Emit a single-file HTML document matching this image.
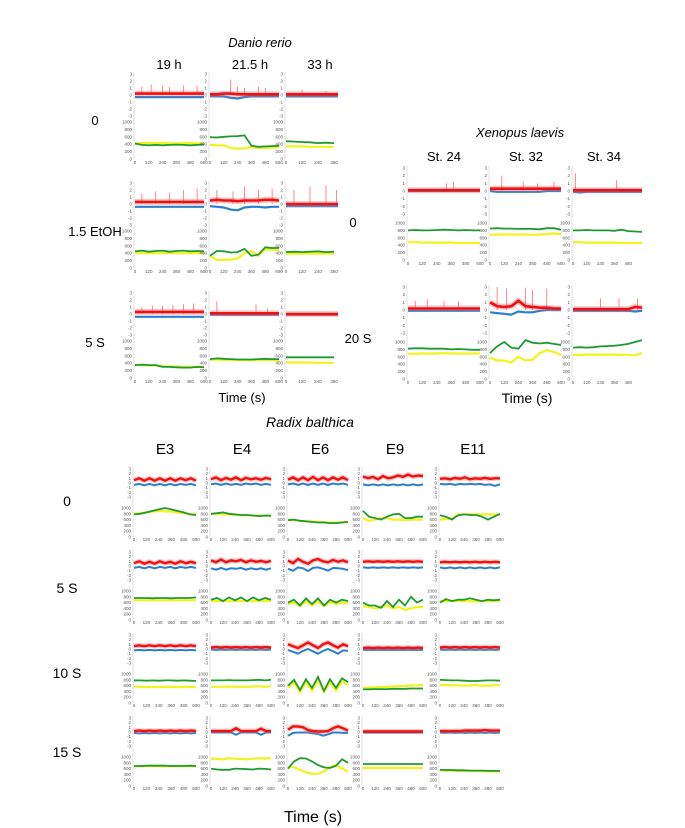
<!DOCTYPE html>
<html><head><meta charset="utf-8"><style>
html,body{margin:0;padding:0;background:#fff;}
svg{display:block;font-family:"Liberation Sans",sans-serif;}
.tk{font-size:4.5px;fill:#555;}
</style></head><body>
<svg id="fig" width="685" height="828" viewBox="0 0 685 828">
<g>
<text x="260" y="47" font-size="13" font-style="italic" text-anchor="middle">Danio rerio</text>
<text x="169" y="69" font-size="13" text-anchor="middle">19 h</text>
<text x="250" y="69" font-size="13" text-anchor="middle">21.5 h</text>
<text x="320" y="69" font-size="13" text-anchor="middle">33 h</text>
<text x="95" y="125" font-size="13" text-anchor="middle">0</text>
<text x="95" y="236" font-size="13" text-anchor="middle">1.5 EtOH</text>
<text x="95" y="347" font-size="13" text-anchor="middle">5 S</text>
<text x="242" y="402" font-size="13" text-anchor="middle">Time (s)</text>
<text x="520" y="137" font-size="13" font-style="italic" text-anchor="middle">Xenopus laevis</text>
<text x="444" y="161" font-size="13" text-anchor="middle">St. 24</text>
<text x="526" y="161" font-size="13" text-anchor="middle">St. 32</text>
<text x="604" y="161" font-size="13" text-anchor="middle">St. 34</text>
<text x="353" y="227" font-size="13" text-anchor="middle">0</text>
<text x="358" y="343" font-size="13" text-anchor="middle">20 S</text>
<text x="527" y="403" font-size="14" text-anchor="middle">Time (s)</text>
<text x="310" y="427" font-size="14" font-style="italic" text-anchor="middle">Radix balthica</text>
<text x="165" y="454" font-size="15" text-anchor="middle">E3</text>
<text x="242" y="454" font-size="15" text-anchor="middle">E4</text>
<text x="320" y="454" font-size="15" text-anchor="middle">E6</text>
<text x="395" y="454" font-size="15" text-anchor="middle">E9</text>
<text x="473" y="454" font-size="15" text-anchor="middle">E11</text>
<text x="67" y="506" font-size="14" text-anchor="middle">0</text>
<text x="67" y="593" font-size="14" text-anchor="middle">5 S</text>
<text x="67" y="678" font-size="14" text-anchor="middle">10 S</text>
<text x="67" y="757" font-size="14" text-anchor="middle">15 S</text>
<text x="313" y="822" font-size="16" text-anchor="middle">Time (s)</text>
</g>
</svg>
<script>
// ---- Danio rerio (row-major: rows 0,1.5EtOH,5S ; cols 19h,21.5h,33h)
const danioGreen = [
 [420,380,370,380,370,380,390,380,370,380,390],
 [590,580,600,610,620,640,360,330,340,350,360],
 [480,470,460,450,430,440,430],
 [450,470,440,460,470,440,460,470,450,460,450],
 [330,460,450,420,430,520,330,360,560,540,540],
 [430,440,430,440,450,430,440],
 [350,360,350,350,300,300,290,280,280,300,290],
 [510,530,520,510,500,500,500,510,520,510,510],
 [560,560,560,560,560,560,560]
];
const danioYellow = [
 [420,430,440,430,440,430,420,430,440,420,430],
 [380,370,370,300,280,290,320,300,300,310,320],
 [340,340,340,330,330,330,330],
 [400,400,400,400,400,410,400,400,400,400,400],
 [320,220,220,230,260,400,460,330,500,500,480],
 [390,390,390,390,390,390,390],
 [360,350,340,340,320,310,310,300,300,300,300],
 [490,500,490,490,480,480,480,480,490,480,470],
 [420,420,420,420,410,410,410]
];
const danioRed = [
 [0.2,0.2,0.2,0.2,0.2,0.2,0.2,0.2,0.2,0.2,0.2],
 [0.1,0.1,0.2,0.2,0.1,0.1,0.1,0.1,0.1,0.1,0.1],
 [0.1,0.1,0.1,0.1,0.1,0.1,0.1,0.1,0.1],
 [0.3,0.3,0.3,0.3,0.3,0.3,0.3,0.3,0.3,0.3,0.3],
 [0.5,0.6,0.5,0.5,0.4,0.5,0.5,0.5,0.6,0.6,0.5],
 [0.0,0.0,0.0,0.0,0.0,0.0,0.0,0.0,0.0],
 [0.3,0.3,0.3,0.3,0.3,0.3,0.3,0.3,0.3,0.3,0.3],
 [0.1,0.1,0.1,0.1,0.1,0.1,0.1,0.1,0.1,0.1,0.1],
 [0.0,0.0,0.0,0.0,0.0,0.0,0.0,0.0,0.0]
];
const danioBlue = [
 [-0.3,-0.3,-0.3,-0.3,-0.3,-0.3,-0.3,-0.3,-0.3,-0.3,-0.3],
 [-0.2,-0.2,-0.2,-0.4,-0.5,-0.3,-0.2,-0.2,-0.2,-0.2,-0.2],
 [-0.2,-0.2,-0.2,-0.2,-0.2,-0.2,-0.2,-0.2,-0.2],
 [-0.4,-0.4,-0.4,-0.4,-0.4,-0.4,-0.4,-0.4,-0.4,-0.4,-0.4],
 [-0.3,-0.4,-0.5,-0.8,-0.9,-0.5,-0.4,-0.4,-0.5,-0.4,-0.4],
 [-0.3,-0.3,-0.3,-0.3,-0.3,-0.3,-0.3,-0.3,-0.3],
 [-0.4,-0.4,-0.4,-0.4,-0.4,-0.4,-0.4,-0.4,-0.4,-0.4,-0.4],
 [-0.1,-0.1,-0.1,-0.1,-0.1,-0.1,-0.1,-0.1,-0.1,-0.1,-0.1],
 [-0.1,-0.1,-0.1,-0.1,-0.1,-0.1,-0.1,-0.1,-0.1]
];
const danioSpikes = [
 [[60,1.2],[140,1.5],[240,1.3],[300,1.1],[420,1.4],[540,1.3]],
 [[180,2.2],[240,1.2],[300,1.0],[420,1.2],[480,1.0]],
 [[120,0.8],[300,0.6]],
 [[60,1.5],[180,1.8],[300,1.6],[420,2.0],[540,2.2]],
 [[60,2.0],[200,1.8],[300,2.5],[420,2.0],[540,2.2]],
 [[60,2.0],[180,2.5],[300,2.6],[380,2.0]],
 [[60,1.0],[150,1.2],[240,1.2],[330,1.3],[420,1.4],[510,1.5]],
 [[60,1.8],[400,1.4],[500,0.8]],
 []
];
const danioDur = [[600,600,390],[600,600,390],[600,600,390]];
// ---- Xenopus laevis (rows 0, 20S ; cols St24, St32, St34)
const xenGreen = [
 [800,810,800,800,810,820,810,800,810,800,800],
 [850,860,850,850,840,840,840,830,860,860,820],
 [800,800,810,800,800,800,790,820,780,770,760],
 [820,830,830,820,820,820,800,810,800,790,790],
 [700,880,1000,850,820,1050,980,960,980,950,920],
 [850,860,850,860,880,890,900,920,950,1000,1050]
];
const xenYellow = [
 [480,480,470,470,470,470,470,460,460,460,460],
 [680,690,690,690,690,690,680,690,700,720,700],
 [480,480,470,470,470,470,470,460,460,460,460],
 [680,680,690,690,690,700,690,690,690,690,690],
 [580,500,500,450,600,500,520,700,780,730,650],
 [650,650,660,660,660,660,660,650,650,640,700]
];
const xenRed = [
 [0.1,0.1,0.1,0.1,0.1,0.1,0.1,0.1,0.1,0.1,0.1],
 [0.3,0.3,0.3,0.3,0.3,0.3,0.3,0.3,0.3,0.3,0.3],
 [0.1,0.1,0.1,0.1,0.1,0.1,0.1,0.1,0.1,0.1,0.1],
 [0.2,0.2,0.2,0.2,0.2,0.2,0.2,0.2,0.2,0.2,0.2],
 [1.0,0.5,0.4,0.5,1.2,0.5,0.4,0.3,0.3,0.2,0.2],
 [0.1,0.1,0.1,0.1,0.1,0.1,0.1,0.1,0.1,0.4,0.3]
];
const xenBlue = [
 [0.0,0.0,0.0,0.0,0.0,0.0,0.0,0.0,0.0,0.0,0.0],
 [0.0,-0.1,-0.1,-0.1,-0.1,-0.1,-0.1,-0.1,0.0,0.0,0.0],
 [-0.1,-0.2,-0.1,-0.1,-0.1,-0.1,-0.1,-0.1,-0.1,-0.1,-0.1],
 [-0.1,-0.1,-0.1,-0.1,-0.1,-0.1,-0.1,-0.1,-0.1,-0.1,-0.1],
 [-0.3,-0.4,-0.5,-0.6,-0.2,-0.3,-0.3,-0.1,0.0,0.0,0.0],
 [-0.1,-0.1,-0.1,-0.1,-0.1,-0.1,-0.1,-0.1,-0.1,-0.2,-0.1]
];
const xenSpikes = [
 [[320,1.0],[380,1.2]],
 [[100,2.0],[280,1.2],[400,1.0],[540,1.2]],
 [[20,2.3],[380,1.4]],
 [[60,1.2],[160,1.4],[300,1.2],[420,1.1]],
 [[60,3.0],[140,2.8],[300,2.9],[360,2.6],[480,2.8]],
 [[240,1.5],[400,1.5],[560,1.5]]
];
// ---- Radix balthica (rows 0,5S,10S,15S ; cols E3,E4,E6,E9,E11)
const radixGreen = [
 [780,800,850,900,950,1000,950,900,850,780,760],
 [800,820,850,800,780,760,760,740,720,740,730],
 [580,600,560,540,520,500,500,480,480,500,520],
 [900,700,650,600,700,780,800,650,650,700,700],
 [750,700,600,750,780,760,760,700,600,700,800],
 [760,760,760,750,760,760,750,760,760,760,780],
 [700,760,650,780,680,780,650,780,680,760,700],
 [600,700,500,750,550,750,500,700,600,700,650],
 [600,500,500,420,650,450,700,500,800,600,700],
 [600,720,650,700,700,750,700,650,700,680,700],
 [780,780,770,780,770,780,780,770,780,770,760],
 [780,780,780,790,780,780,780,790,800,780,800],
 [600,800,450,820,520,900,420,820,520,850,720],
 [470,470,480,480,480,490,490,490,500,500,500],
 [800,790,780,780,770,760,760,770,780,780,770],
 [690,690,700,700,700,700,690,690,690,700,690],
 [600,570,560,560,600,590,580,570,600,590,570],
 [600,850,960,950,850,720,640,620,700,920,800],
 [760,760,760,760,760,760,760,760,760,760,760],
 [560,550,550,540,540,530,530,530,520,520,520]
];
const radixYellow = [
 [800,820,850,880,900,880,880,850,820,800,780],
 [800,800,780,780,760,760,750,740,740,730,740],
 [600,580,560,540,530,520,510,500,500,500,520],
 [650,550,600,650,650,600,600,580,600,600,600],
 [600,620,620,780,780,780,780,780,780,780,760],
 [680,680,680,680,680,680,680,680,680,680,680],
 [650,650,660,650,650,660,650,650,650,660,650],
 [550,600,480,650,500,650,480,620,550,600,580],
 [500,450,400,450,500,400,450,350,400,450,450],
 [650,660,650,650,660,650,640,650,650,650,660],
 [560,560,550,550,550,550,560,550,550,560,550],
 [560,560,560,570,560,560,560,570,580,560,580],
 [520,700,380,720,420,800,380,720,420,750,620],
 [520,530,540,550,560,570,580,590,600,610,620],
 [620,620,610,610,600,610,620,600,600,610,620],
 [680,680,690,690,680,680,680,690,680,690,680],
 [950,930,920,960,940,930,920,940,960,950,960],
 [650,640,560,480,420,420,500,650,720,600,500],
 [620,620,620,620,620,620,620,620,620,620,620],
 [540,530,530,520,520,510,510,510,500,500,500]
];
const radixRed = [
 [0.6,1.0,0.5,1.0,0.5,1.0,0.5,1.0,0.5,1.0,0.6,1.0,0.5],
 [0.8,1.2,0.6,1.1,0.7,1.2,0.6,1.1,0.8,1.0,0.7,1.1,0.8],
 [0.7,1.2,0.6,1.2,0.6,1.3,0.6,1.2,0.6,1.2,0.7,1.2,0.6],
 [1.4,1.0,1.3,0.8,1.5,1.0,1.2,1.6,1.3,1.8,1.4,1.6,1.5],
 [0.9,1.0,0.8,1.1,0.9,1.2,0.8,1.0,0.9,1.1,0.9,1.0,1.0],
 [0.6,1.0,0.5,0.9,0.5,1.0,0.6,0.9,0.5,1.0,0.6,0.9,0.6],
 [1.2,0.8,1.4,0.8,1.2,1.0,1.3,0.8,1.2,0.9,1.1,0.8,1.1],
 [1.2,0.6,1.5,0.9,0.5,1.2,1.5,1.0,0.8,1.3,0.9,1.2,0.8],
 [0.9,1.0,0.9,1.0,0.9,1.0,0.9,1.0,0.9,1.0,0.9,1.0,0.9],
 [0.8,0.9,0.8,0.9,0.8,0.9,0.8,0.9,0.8,0.9,0.8,0.9,0.8],
 [0.6,0.8,0.6,0.8,0.6,0.8,0.6,0.8,0.6,0.8,0.6,0.8,0.6],
 [0.3,0.4,0.3,0.4,0.3,0.4,0.3,0.4,0.3,0.4,0.3,0.4,0.3],
 [1.0,0.6,0.2,0.8,1.4,0.8,0.2,1.0,1.4,0.8,0.3,1.0,0.6],
 [0.2,0.3,0.2,0.3,0.2,0.3,0.2,0.3,0.2,0.3,0.2,0.3,0.2],
 [0.3,0.4,0.3,0.4,0.3,0.4,0.3,0.4,0.3,0.4,0.3,0.4,0.3],
 [0.2,0.3,0.2,0.3,0.2,0.3,0.2,0.3,0.2,0.3,0.2,0.3,0.2],
 [0.2,0.2,0.2,0.2,0.2,0.8,0.2,0.2,0.2,0.2,0.7,0.2,0.2],
 [0.5,1.2,1.2,1.0,0.4,0.2,0.1,0.1,0.2,0.8,1.2,0.8,0.3],
 [0.1,0.1,0.1,0.1,0.1,0.1,0.1,0.1,0.1,0.1,0.1,0.1,0.1],
 [0.2,0.2,0.2,0.2,0.2,0.3,0.3,0.3,0.3,0.4,0.3,0.3,0.3]
];
const radixBlue = [
 [-0.4,-0.2,-0.5,-0.2,-0.5,-0.2,-0.5,-0.2,-0.5,-0.2,-0.4,-0.2,-0.5],
 [-0.3,-0.1,-0.4,-0.1,-0.4,-0.2,-0.4,-0.1,-0.3,-0.1,-0.4,-0.2,-0.4],
 [-0.3,-0.1,-0.4,-0.1,-0.4,-0.1,-0.4,-0.1,-0.4,-0.1,-0.3,-0.1,-0.4],
 [-0.3,-0.5,-0.3,-0.5,-0.3,-0.5,-0.3,-0.5,-0.3,-0.5,-0.3,-0.5,-0.3],
 [-0.2,-0.3,-0.2,-0.4,-0.2,-0.3,-0.2,-0.3,-0.2,-0.4,-0.3,-0.6,-0.3],
 [-0.4,-0.2,-0.5,-0.2,-0.5,-0.2,-0.4,-0.2,-0.5,-0.2,-0.4,-0.2,-0.4],
 [-0.5,-0.8,-0.4,-0.8,-0.5,-0.6,-0.4,-0.8,-0.5,-0.7,-0.5,-0.8,-0.5],
 [-0.6,-1.0,-0.3,-0.5,-1.1,-0.4,-0.3,-0.6,-1.0,-0.4,-0.5,-0.6,-0.9],
 [-0.3,-0.4,-0.3,-0.4,-0.3,-0.4,-0.3,-0.4,-0.3,-0.4,-0.3,-0.4,-0.3],
 [-0.3,-0.5,-0.3,-0.5,-0.3,-0.5,-0.3,-0.5,-0.3,-0.5,-0.3,-0.5,-0.3],
 [-0.3,-0.2,-0.3,-0.2,-0.3,-0.2,-0.3,-0.2,-0.3,-0.2,-0.3,-0.2,-0.3],
 [-0.1,-0.2,-0.1,-0.2,-0.1,-0.2,-0.1,-0.2,-0.1,-0.2,-0.1,-0.2,-0.1],
 [-0.2,-0.6,-1.0,-0.4,0.0,-0.5,-1.0,-0.4,0.0,-0.5,-1.0,-0.3,-0.4],
 [-0.2,-0.2,-0.2,-0.2,-0.2,-0.2,-0.2,-0.2,-0.2,-0.2,-0.2,-0.2,-0.2],
 [-0.1,-0.2,-0.1,-0.2,-0.1,-0.2,-0.1,-0.2,-0.1,-0.2,-0.1,-0.2,-0.1],
 [-0.2,-0.3,-0.2,-0.3,-0.2,-0.3,-0.2,-0.3,-0.2,-0.3,-0.2,-0.3,-0.2],
 [-0.1,-0.1,-0.1,-0.1,-0.1,-0.6,-0.1,-0.1,-0.1,-0.1,-0.6,-0.1,-0.1],
 [-0.8,-0.2,-0.1,-0.1,-0.1,-0.3,-0.4,-0.8,-0.5,-0.1,-0.1,-0.2,-0.2],
 [-0.1,-0.1,-0.1,-0.1,-0.1,-0.1,-0.1,-0.1,-0.1,-0.1,-0.1,-0.1,-0.1],
 [-0.1,-0.2,-0.1,-0.2,-0.1,-0.2,-0.1,-0.2,-0.1,-0.2,-0.1,-0.2,-0.1]
];
const topTicks = [3,2,1,0,-1,-2,-3];
const botTicks = [1000,800,600,400,200,0];
const xTicks = [0,120,240,360,480,600];

const NS = 'http://www.w3.org/2000/svg';
const svg = document.getElementById('fig');
function mk(tag, attrs, parent){
  const e = document.createElementNS(NS, tag);
  for (const k in attrs) e.setAttribute(k, attrs[k]);
  parent.appendChild(e); return e;
}
function line(vals, dur, xs, ys){
  const n = vals.length;
  return vals.map((v,i)=> xs(dur*i/(n-1)).toFixed(1)+','+ys(v).toFixed(1)).join(' ');
}
function panel(name, x0, x600, t3, tm3, b1000, b0, tickY, g, y, r, b, spikes, dur, xTickMax, small){
  const grp = mk('g', {}, svg);
  
  
  const xs = t => x0 + (x600 - x0) * t / 600;
  const yt = v => t3 + (tm3 - t3) * (3 - v) / 6;
  const yb = v => b0 + (b1000 - b0) * v / 1000;
  const ax = mk('line', {x1:x0-1, x2:x0-1, y1:t3-2, y2:b0, stroke:'#ccc', 'stroke-width':0.6}, grp);
  
  
  topTicks.forEach(v=>{
    const t = mk('text', {x:x0-3, y:yt(v)+1.5, class:'tk', 'text-anchor':'end'}, grp);
    t.textContent = v;
    
    
  });
  botTicks.forEach(v=>{
    const t = mk('text', {x:x0-3, y:yb(v)+1.5, class:'tk', 'text-anchor':'end'}, grp);
    t.textContent = v;
    
    
  });
  xTicks.filter(v=>v<=xTickMax).forEach(v=>{
    const t = mk('text', {x:xs(v), y:tickY, class:'tk', 'text-anchor':'middle'}, grp);
    t.textContent = v;
    
    
  });
  (spikes||[]).forEach(s=>{
    const sp = mk('line', {x1:xs(s[0]), x2:xs(s[0]), y1:yt(0), y2:yt(s[1]), stroke:'#f55', 'stroke-width':0.7}, grp);
    
    
  });
  const bl = mk('polyline', {points:line(b, dur, xs, yt), fill:'none', stroke:'#2b7fcf', 'stroke-width':small?2:2.2}, grp);
  
  
  const rh = mk('polyline', {points:line(r, dur, xs, yt), fill:'none', stroke:'#ff6060', 'stroke-opacity':0.35, 'stroke-width':small?5:6}, grp);
  
  
  const rl = mk('polyline', {points:line(r, dur, xs, yt), fill:'none', stroke:'#ee1111', 'stroke-width':small?2.4:2.6}, grp);
  
  
  const gDur = dur < 600 ? (g.length-1)*60 : 600;
  const yl = mk('polyline', {points:line(y, gDur, xs, yb), fill:'none', stroke:'#f2f21c', 'stroke-width':2.2}, grp);
  
  
  const gl = mk('polyline', {points:line(g, gDur, xs, yb), fill:'none', stroke:'#1f9a30', 'stroke-width':1.8}, grp);
  
  
}
// Danio
const danioCols = [[135,204],[210,279],[286,366]];
const danioRowTop = [74,183,293];
for (let r=0;r<3;r++) for (let c=0;c<3;c++){
  const i = r*3+c, t = danioRowTop[r];
  panel('danio-panel-'+r+'-'+c, danioCols[c][0], danioCols[c][1], t, t+42, t+48, t+85, t+90,
    danioGreen[i], danioYellow[i], danioRed[i], danioBlue[i], danioSpikes[i], danioDur[r][c], c==2?360:600, false);
}
// Xenopus
const xenCols = [[408,480],[490,561],[573,642]];
const xenRowTop = [168,287];
for (let r=0;r<2;r++) for (let c=0;c<3;c++){
  const i = r*3+c, t = xenRowTop[r];
  panel('xenopus-panel-'+r+'-'+c, xenCols[c][0], xenCols[c][1], t, t+46, t+55, t+92, t+97,
    xenGreen[i], xenYellow[i], xenRed[i], xenBlue[i], xenSpikes[i], 600, c==2?480:600, false);
}
// Radix
const radixCols = [[134,196],[211,271],[288,348],[363,423],[440,500]];
const radixTick = [541,624,707,790];
for (let r=0;r<4;r++) for (let c=0;c<5;c++){
  const i = r*5+c, tk = radixTick[r];
  panel('radix-panel-'+r+'-'+c, radixCols[c][0], radixCols[c][1], tk-72, tk-44, tk-33, tk-4, tk,
    radixGreen[i], radixYellow[i], radixRed[i], radixBlue[i], [], 600, 600, true);
}
</script>
</body></html>
